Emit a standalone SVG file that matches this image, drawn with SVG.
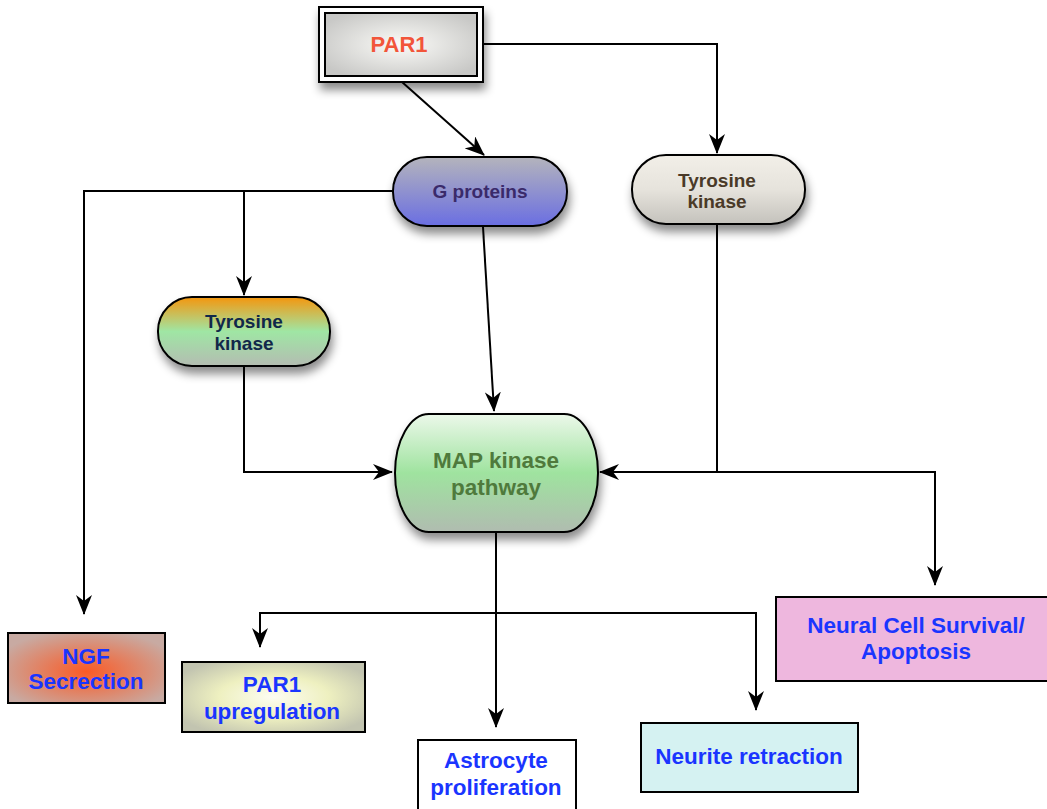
<svg xmlns="http://www.w3.org/2000/svg" width="1047" height="809" viewBox="0 0 1047 809">
<style>
.edge{fill:none;stroke:#000;stroke-width:2;}
.nodeStroke{stroke:#000;stroke-width:2;}
.t{font-family:"Liberation Sans",Arial,sans-serif;font-weight:bold;text-anchor:middle;}
.big{font-size:22.5px;fill:#1a35ff;}
.mid{font-size:19px;}
</style>
<defs>
<marker id="arr" viewBox="0 0 20 16" refX="19" refY="8" markerWidth="20" markerHeight="16" markerUnits="userSpaceOnUse" orient="auto">
<path d="M0,0 L20,8 L0,16 L6,8 z" fill="#000"/>
</marker>
<filter id="sh" x="-20%" y="-20%" width="150%" height="160%">
<feDropShadow dx="2" dy="7" stdDeviation="5" flood-color="#000" flood-opacity="0.45"/>
</filter>
<radialGradient id="gPar1" cx="0.5" cy="0.5" r="0.6">
<stop offset="0" stop-color="#fbfbf8"/>
<stop offset="1" stop-color="#c8c8c6"/>
</radialGradient>
<linearGradient id="gG" x1="0" y1="0" x2="0" y2="1">
<stop offset="0" stop-color="#b4b4bc"/>
<stop offset="1" stop-color="#6a6ee2"/>
</linearGradient>
<linearGradient id="gTR" x1="0" y1="0" x2="0" y2="1">
<stop offset="0" stop-color="#f2efe8"/>
<stop offset="0.5" stop-color="#e6e3dc"/>
<stop offset="1" stop-color="#c4c2bc"/>
</linearGradient>
<linearGradient id="gTL" x1="0" y1="0" x2="0" y2="1">
<stop offset="0" stop-color="#f5960e"/>
<stop offset="0.5" stop-color="#9fe6a4"/>
<stop offset="1" stop-color="#b4bcb2"/>
</linearGradient>
<linearGradient id="gMAP" x1="0" y1="0" x2="0" y2="1">
<stop offset="0" stop-color="#ecf8ea"/>
<stop offset="0.5" stop-color="#9fe39f"/>
<stop offset="1" stop-color="#b0bcb0"/>
</linearGradient>
<radialGradient id="gNGF" cx="0.5" cy="0.55" r="0.6">
<stop offset="0" stop-color="#fb5a25"/>
<stop offset="1" stop-color="#c8aaa2"/>
</radialGradient>
<radialGradient id="gUp" cx="0.5" cy="0.5" r="0.6">
<stop offset="0" stop-color="#fdfdf2"/>
<stop offset="0.5" stop-color="#eef0c0"/>
<stop offset="1" stop-color="#c2c4b0"/>
</radialGradient>
</defs>

<g id="connectors">
<path class="edge" d="M483,44 H717 V153" marker-end="url(#arr)"/>
<path class="edge" d="M402,82 L484,155" marker-end="url(#arr)"/>
<path class="edge" d="M393,191 H84 V614" marker-end="url(#arr)"/>
<path class="edge" d="M244,191 V295" marker-end="url(#arr)"/>
<path class="edge" d="M483,227 L494,411" marker-end="url(#arr)"/>
<path class="edge" d="M244,366 V472 H392" marker-end="url(#arr)"/>
<path class="edge" d="M717,224 V472 H600" marker-end="url(#arr)"/>
<path class="edge" d="M717,472 H935 V585" marker-end="url(#arr)"/>
<path class="edge" d="M496,533 V727" marker-end="url(#arr)"/>
<path class="edge" d="M496,613 H260 V647" marker-end="url(#arr)"/>
<path class="edge" d="M496,613 H756 V710" marker-end="url(#arr)"/>
</g>

<g id="par1">
<rect x="319" y="7" width="164" height="75" fill="#fff" class="nodeStroke" filter="url(#sh)"/>
<rect x="325" y="13" width="152" height="63" fill="url(#gPar1)" class="nodeStroke"/>
<text x="399" y="52" class="t" font-size="22" fill="#f2553a">PAR1</text>
</g>

<g id="gproteins">
<rect x="393" y="157" width="174" height="69" rx="34" ry="34" fill="url(#gG)" class="nodeStroke" filter="url(#sh)"/>
<text x="480" y="198" class="t mid" fill="#3a2a6a">G proteins</text>
</g>

<g id="tyrosine-right">
<rect x="632" y="155" width="173" height="69" rx="34" ry="34" fill="url(#gTR)" class="nodeStroke" filter="url(#sh)"/>
<text class="t mid" fill="#4a3a28"><tspan x="717" y="187">Tyrosine</tspan><tspan x="717" y="208">kinase</tspan></text>
</g>

<g id="tyrosine-left">
<rect x="158" y="297" width="172" height="69" rx="34" ry="34" fill="url(#gTL)" class="nodeStroke" filter="url(#sh)"/>
<text class="t mid" fill="#10284a"><tspan x="244" y="328">Tyrosine</tspan><tspan x="244" y="350">kinase</tspan></text>
</g>

<g id="map">
<rect x="395" y="414" width="203" height="118" rx="34" ry="60" fill="url(#gMAP)" class="nodeStroke" filter="url(#sh)"/>
<text class="t" font-size="22.5" fill="#4f7a3c"><tspan x="496" y="468">MAP kinase</tspan><tspan x="496" y="495">pathway</tspan></text>
</g>

<g id="ngf">
<rect x="8" y="633" width="157" height="70" fill="url(#gNGF)" class="nodeStroke"/>
<text class="t big"><tspan x="86" y="664">NGF</tspan><tspan x="86" y="689">Secrection</tspan></text>
</g>

<g id="par1up">
<rect x="182" y="662" width="183" height="70" fill="url(#gUp)" class="nodeStroke"/>
<text class="t big"><tspan x="272" y="692">PAR1</tspan><tspan x="272" y="719">upregulation</tspan></text>
</g>

<g id="astro">
<rect x="418" y="740" width="158" height="72" fill="#fff" class="nodeStroke"/>
<text class="t big"><tspan x="496" y="768">Astrocyte</tspan><tspan x="496" y="795">proliferation</tspan></text>
</g>

<g id="neurite">
<rect x="641" y="723" width="217" height="69" fill="#d5f2f2" class="nodeStroke"/>
<text x="749" y="764" class="t big">Neurite retraction</text>
</g>

<g id="neural">
<rect x="776" y="597" width="274" height="84" fill="#eeb7de" class="nodeStroke"/>
<text class="t big"><tspan x="916" y="633">Neural Cell Survival/</tspan><tspan x="916" y="659">Apoptosis</tspan></text>
</g>
</svg>
